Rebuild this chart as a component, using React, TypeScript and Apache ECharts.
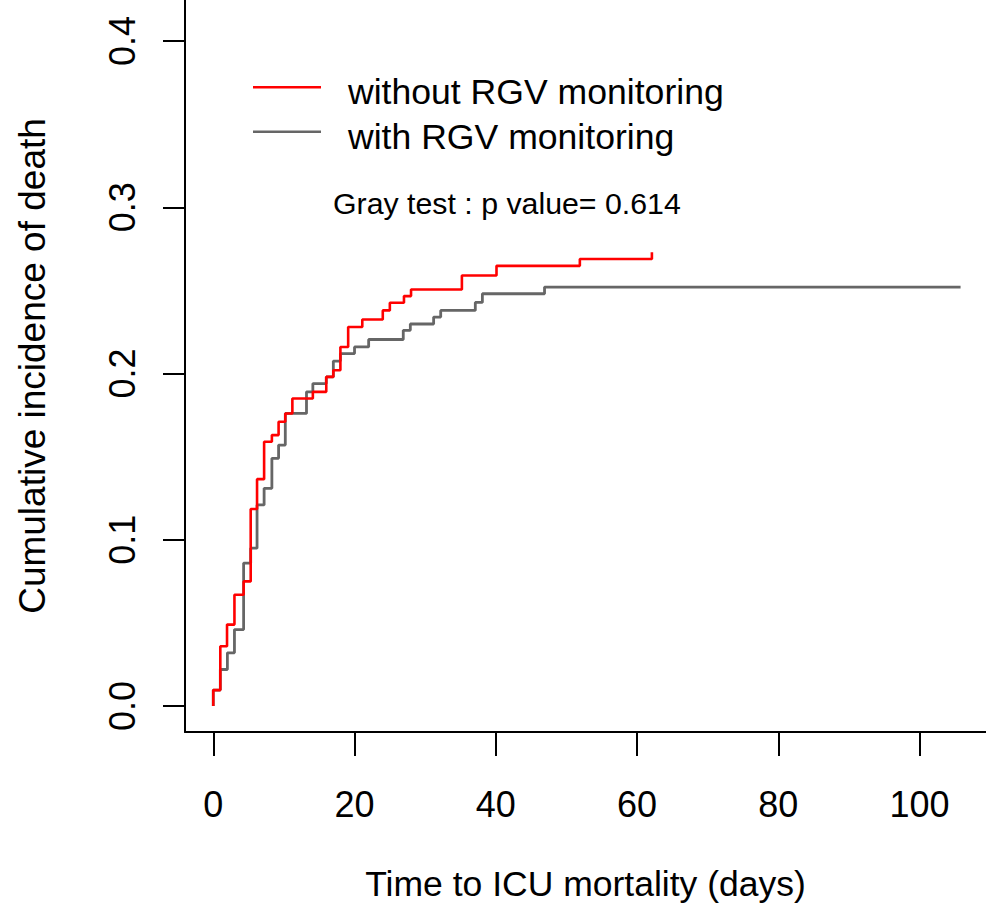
import React, { useEffect, useRef } from "react";
import * as echarts from "echarts";

const FONT = "'Liberation Sans', Arial, Helvetica, sans-serif";

// Step points (time in days, cumulative incidence after that time)
const redTimes = [0, 0, 1, 1.95, 3, 4.3, 5.3, 6.2, 7.2, 8.3, 9.25, 10.2, 11.2, 14.1, 16.0, 17, 18, 19.1, 21.1, 24, 25, 27, 28, 35.2, 40.1, 51.9, 62.1];
const redValues = [0, 0.0096, 0.036, 0.049, 0.067, 0.075, 0.1185, 0.1365, 0.159, 0.163, 0.171, 0.176, 0.185, 0.189, 0.198, 0.202, 0.216, 0.228, 0.2325, 0.238, 0.2426, 0.2466, 0.2506, 0.259, 0.2648, 0.2689, 0.273];

const grayTimes = [0, 0, 1, 2, 3, 4.3, 5.3, 6.2, 7.2, 8.3, 9.25, 10.2, 13.2, 14.1, 16.0, 17, 18, 20, 22, 26.9, 27.9, 31.2, 32.2, 37.1, 38.1, 46.9, 105.8];
const grayValues = [0, 0.0096, 0.022, 0.032, 0.046, 0.086, 0.095, 0.121, 0.131, 0.149, 0.157, 0.176, 0.189, 0.194, 0.198, 0.2075, 0.212, 0.216, 0.2205, 0.226, 0.2298, 0.234, 0.238, 0.2428, 0.248, 0.252, 0.252];

const seriesNames = ["without RGV monitoring", "with RGV monitoring"];
const xTicks = [0, 20, 40, 60, 80, 100];
const yTicks = [0, 0.1, 0.2, 0.3, 0.4];
const xTitle = "Time to ICU mortality (days)";
const yTitle = "Cumulative incidence of death";
const testText = "Gray test : p value= 0.614";

export default function App() {
  const ref = useRef<HTMLDivElement>(null);
  useEffect(() => {
    if (!ref.current) return;
    const chart = echarts.init(ref.current, null, { renderer: "svg" });
    const red = redTimes.map((t, i) => [t, redValues[i]]);
    const gray = grayTimes.map((t, i) => [t, grayValues[i]]);
    chart.setOption({
      animation: false,
      backgroundColor: "#fff",
      textStyle: { fontFamily: FONT },
      grid: { left: 185, right: 0, top: 0, bottom: 178, containLabel: false },
      xAxis: {
        type: "value",
        min: -4,
        max: 109.4,
        axisLine: { onZero: false, lineStyle: { color: "#000", width: 2 } },
        axisTick: { customValues: xTicks, length: 24, lineStyle: { color: "#000", width: 2 } },
        axisLabel: { customValues: xTicks, margin: 54, fontSize: 36, color: "#000", fontFamily: FONT },
        splitLine: { show: false },
        name: xTitle,
        nameLocation: "middle",
        nameGap: 134,
        nameTextStyle: { fontSize: 35.5, color: "#000", fontFamily: FONT },
      },
      yAxis: {
        type: "value",
        min: -0.0156,
        max: 0.4247,
        axisLine: { onZero: false, lineStyle: { color: "#000", width: 2 } },
        axisTick: { customValues: yTicks, length: 22, lineStyle: { color: "#000", width: 2 } },
        axisLabel: {
          customValues: yTicks,
          rotate: 90,
          margin: 45,
          fontSize: 36,
          color: "#000",
          fontFamily: FONT,
          formatter: (v: number) => v.toFixed(1),
        },
        splitLine: { show: false },
        name: yTitle,
        nameLocation: "middle",
        nameRotate: 90,
        nameGap: 134,
        nameTextStyle: { fontSize: 37, color: "#000", fontFamily: FONT },
      },
      legend: {
        orient: "vertical",
        left: 248,
        top: 69,
        icon: "path://M0,0H68V2.5H0Z M0,12Z",
        itemWidth: 68,
        itemHeight: 12,
        itemGap: 8.5,
        data: seriesNames,
        textStyle: { fontSize: 35.6, lineHeight: 36, color: "#000", fontFamily: FONT, padding: [0, 0, 0, 22] },
      },
      graphic: [
        {
          type: "text",
          left: 333,
          top: 188,
          style: { text: testText, fontSize: 30.3, fill: "#000", fontFamily: FONT },
        },
      ],
      series: [
        {
          name: seriesNames[0],
          type: "line",
          step: "end",
          data: red,
          symbol: "none",
          lineStyle: { color: "#ff0000", width: 2.6 },
          itemStyle: { color: "#ff0000" },
          z: 3,
        },
        {
          name: seriesNames[1],
          type: "line",
          step: "end",
          data: gray,
          symbol: "none",
          lineStyle: { color: "#666666", width: 2.8 },
          itemStyle: { color: "#666666" },
          z: 2,
        },
      ],
    });
    return () => chart.dispose();
  }, []);
  return <div ref={ref} style={{ position: "absolute", left: 0, top: 0, width: 986, height: 910 }} />;
}
